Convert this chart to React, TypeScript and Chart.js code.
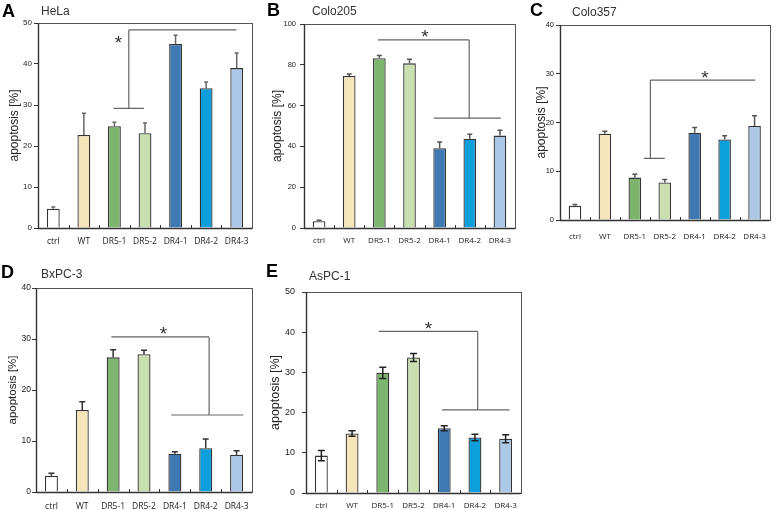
import React, { useEffect, useRef } from "react";
import { Chart, registerables } from "chart.js";
Chart.register(...registerables);

const categories = ["ctrl", "WT", "DR5-1", "DR5-2", "DR4-1", "DR4-2", "DR4-3"];
const barColors = ["#ffffff", "#f6e4ba", "#7db46e", "#c9dfaf", "#3e79b4", "#0c9fdb", "#abc8e6"];
const yTitle = "apoptosis [%]";

// HeLa
const helaMean = [4.7, 22.7, 24.8, 23.1, 44.9, 34.1, 39.0];
const helaErr = [0.4, 5.3, 1.0, 2.5, 2.1, 1.5, 3.7];
const helaBracket = [[1.97, 29.2, 2.97, 29.2], [2.47, 29.2, 2.47, 48.3], [2.47, 48.3, 5.99, 48.3]];
const helaStar = [2.13, 46.3];
// Colo205
const colo205Mean = [3.3, 74.5, 83.2, 80.7, 39.1, 43.8, 45.3];
const colo205Err = [0.5, 1.0, 1.3, 2.0, 3.1, 2.1, 2.6];
const colo205Bracket = [[1.95, 92.2, 4.98, 92.2], [4.98, 92.2, 4.98, 53.9], [3.8, 53.9, 6.03, 53.9]];
const colo205Star = [3.51, 96.2];
// Colo357
const colo357Mean = [2.9, 17.7, 8.7, 7.7, 17.9, 16.5, 19.3];
const colo357Err = [0.3, 0.5, 0.7, 0.6, 1.1, 0.8, 2.1];
const colo357Bracket = [[2.3, 12.65, 3.0, 12.65], [2.52, 12.65, 2.52, 28.7], [2.52, 28.7, 6.02, 28.7]];
const colo357Star = [4.34, 30.1];
// BxPC-3
const bxpcMean = [3.2, 16.1, 26.4, 27.0, 7.5, 8.6, 7.3];
const bxpcErr = [0.5, 1.6, 1.5, 0.8, 0.4, 1.8, 0.8];
const bxpcBracket = [[1.94, 30.4, 5.11, 30.4], [5.11, 30.4, 5.11, 15.1], [3.88, 15.1, 6.22, 15.1]];
const bxpcStar = [3.63, 31.9];
// AsPC-1
const aspcMean = [9.3, 14.8, 29.9, 33.7, 16.1, 13.8, 13.5];
const aspcErr = [1.3, 0.7, 1.4, 1.0, 0.6, 0.8, 1.0];
const aspcBracket = [[1.87, 40.2, 5.09, 40.2], [5.09, 40.2, 5.09, 20.7], [3.93, 20.7, 6.13, 20.7]];
const aspcStar = [3.49, 42.1];

type PanelDef = {
  letter: string; title: string;
  mean: number[]; err: number[]; both: boolean;
  bracket: number[][]; star: number[];
  max: number; step: number;
  left: number; top: number; width: number; height: number;
  padTop: number; padRight: number; yWidth: number; xHeight: number; xPad: number;
  yTitleX: number; yTitleSize: number; yTickSize: number; yTickPad: number; xTickSize: number;
  capHalf: number; errColor: string;
  letterPos: [number, number]; titlePos: [number, number];
};

const panels: PanelDef[] = [
  {
    letter: "A", title: "HeLa", mean: helaMean, err: helaErr, both: false, bracket: helaBracket, star: helaStar,
    max: 50, step: 10, left: 0, top: 0, width: 262, height: 255, padTop: 23, padRight: 10, yWidth: 38, xHeight: 27, xPad: 8,
    yTitleX: 15, yTitleSize: 12, yTickSize: 8, yTickPad: 2, xTickSize: 8.5, capHalf: 2, errColor: "#666",
    letterPos: [2, 2], titlePos: [41, 5],
  },
  {
    letter: "B", title: "Colo205", mean: colo205Mean, err: colo205Err, both: false, bracket: colo205Bracket, star: colo205Star,
    max: 100, step: 20, left: 262, top: 0, width: 262, height: 255, padTop: 24, padRight: 9, yWidth: 42, xHeight: 27, xPad: 8,
    yTitleX: 16, yTitleSize: 12, yTickSize: 7.5, yTickPad: 4, xTickSize: 8, capHalf: 2.5, errColor: "#555",
    letterPos: [267, 1], titlePos: [312, 5],
  },
  {
    letter: "C", title: "Colo357", mean: colo357Mean, err: colo357Err, both: false, bracket: colo357Bracket, star: colo357Star,
    max: 40, step: 10, left: 524, top: 0, width: 254, height: 255, padTop: 25, padRight: 3, yWidth: 36, xHeight: 35, xPad: 12,
    yTitleX: 18, yTitleSize: 12, yTickSize: 7.5, yTickPad: 2, xTickSize: 8, capHalf: 2.5, errColor: "#555",
    letterPos: [530, 1], titlePos: [572, 6],
  },
  {
    letter: "D", title: "BxPC-3", mean: bxpcMean, err: bxpcErr, both: false, bracket: bxpcBracket, star: bxpcStar,
    max: 40, step: 10, left: 0, top: 255, width: 262, height: 255, padTop: 33, padRight: 10, yWidth: 36, xHeight: 18, xPad: 9,
    yTitleX: 13, yTitleSize: 11.5, yTickSize: 8.5, yTickPad: 1, xTickSize: 8.5, capHalf: 3, errColor: "#333",
    letterPos: [1, 263], titlePos: [41, 268],
  },
  {
    letter: "E", title: "AsPC-1", mean: aspcMean, err: aspcErr, both: true, bracket: aspcBracket, star: aspcStar,
    max: 50, step: 10, left: 262, top: 255, width: 268, height: 255, padTop: 37, padRight: 9, yWidth: 44, xHeight: 17, xPad: 8,
    yTitleX: 14, yTitleSize: 12.5, yTickSize: 9, yTickPad: 7, xTickSize: 8, capHalf: 3.5, errColor: "#222",
    letterPos: [266, 262], titlePos: [309, 270],
  },
];

function makeOverlay(p: PanelDef) {
  return {
    id: "overlay" + p.letter,
    afterDatasetsDraw(chart: any) {
      const ctx = chart.ctx;
      const ca = chart.chartArea;
      const xs = chart.scales.x;
      const ys = chart.scales.y;
      ctx.save();
      ctx.strokeStyle = "#555";
      ctx.lineWidth = 1;
      ctx.strokeRect(Math.round(ca.left) + 0.5, Math.round(ca.top) + 0.5, Math.round(ca.right - ca.left), Math.round(ca.bottom - ca.top));
      ctx.strokeStyle = "#333";
      ctx.lineWidth = 1.4;
      ctx.beginPath();
      ctx.moveTo(ca.left + 0.5, ca.top);
      ctx.lineTo(ca.left + 0.5, ca.bottom + 0.5);
      ctx.lineTo(ca.right, ca.bottom + 0.5);
      ctx.stroke();
      ctx.lineWidth = 1;
      ctx.beginPath();
      for (let k = 0; k < categories.length - 1; k++) {
        const x = Math.round(xs.getPixelForValue(k + 0.5)) + 0.5;
        ctx.moveTo(x, ca.bottom);
        ctx.lineTo(x, ca.bottom - 3);
      }
      ctx.stroke();
      ctx.strokeStyle = p.errColor;
      ctx.lineWidth = 1.5;
      ctx.beginPath();
      p.mean.forEach((m, i) => {
        const x = xs.getPixelForValue(i);
        const yHi = ys.getPixelForValue(m + p.err[i]);
        const yLo = p.both ? ys.getPixelForValue(m - p.err[i]) : ys.getPixelForValue(m);
        ctx.moveTo(x, yLo);
        ctx.lineTo(x, yHi);
        ctx.moveTo(x - p.capHalf, yHi);
        ctx.lineTo(x + p.capHalf, yHi);
        if (p.both) {
          ctx.moveTo(x - p.capHalf, yLo);
          ctx.lineTo(x + p.capHalf, yLo);
        }
      });
      ctx.stroke();
      ctx.strokeStyle = "#666";
      ctx.lineWidth = 1.2;
      ctx.beginPath();
      p.bracket.forEach(([x1, y1, x2, y2]) => {
        ctx.moveTo(xs.getPixelForValue(x1), ys.getPixelForValue(y1));
        ctx.lineTo(xs.getPixelForValue(x2), ys.getPixelForValue(y2));
      });
      ctx.stroke();
      const fs = 19;
      ctx.fillStyle = "#333";
      ctx.font = `${fs}px "Liberation Sans", Arial, sans-serif`;
      ctx.textAlign = "center";
      ctx.textBaseline = "alphabetic";
      ctx.fillText("*", xs.getPixelForValue(p.star[0]), ys.getPixelForValue(p.star[1]) + fs * 0.57);
      ctx.restore();
    },
  };
}

function PanelChart({ p }: { p: PanelDef }) {
  const ref = useRef<HTMLCanvasElement | null>(null);
  useEffect(() => {
    if (!ref.current) return;
    const chart = new Chart(ref.current, {
      type: "bar",
      data: {
        labels: categories,
        datasets: [
          {
            data: p.mean,
            backgroundColor: barColors,
            borderColor: "#333",
            borderWidth: 1.3,
            barPercentage: 0.42,
            categoryPercentage: 1,
          },
        ],
      },
      options: {
        responsive: false,
        animation: false,
        devicePixelRatio: 1,
        layout: { padding: { left: 0, top: p.padTop, right: p.padRight, bottom: 0 } },
        plugins: { legend: { display: false }, tooltip: { enabled: false }, title: { display: false } },
        scales: {
          x: {
            offset: true,
            grid: { display: false, drawTicks: false },
            border: { display: false },
            ticks: {
              color: "#222",
              font: { family: "Open Sans", size: p.xTickSize },
              padding: p.xPad,
              maxRotation: 0,
              autoSkip: false,
            },
            afterFit: (s: any) => { s.height = p.xHeight; },
          },
          y: {
            min: 0,
            max: p.max,
            grid: { display: true, drawOnChartArea: false, drawTicks: true, tickLength: 4, color: "#333" },
            border: { display: false },
            ticks: {
              stepSize: p.step,
              color: "#222",
              font: { family: "Liberation Sans", size: p.yTickSize },
              padding: p.yTickPad,
            },
            title: {
              display: true,
              text: yTitle,
              color: "#222",
              font: { family: "Liberation Sans", size: p.yTitleSize },
              padding: { top: p.yTitleX - (p.yTitleSize * 1.2) / 2, bottom: 0 },
            },
            afterFit: (s: any) => { s.width = p.yWidth; },
          },
        },
      },
      plugins: [makeOverlay(p)],
    } as any);
    return () => chart.destroy();
  }, [p]);
  return (
    <canvas
      ref={ref}
      width={p.width}
      height={p.height}
      style={{ position: "absolute", left: p.left, top: p.top, width: p.width, height: p.height }}
    />
  );
}

export default function App() {
  return (
    <div style={{ position: "absolute", left: 0, top: 0, width: 778, height: 510, background: "#fff", overflow: "hidden" }}>
      {panels.map((p) => (
        <PanelChart key={p.letter} p={p} />
      ))}
      {panels.map((p) => (
        <div
          key={"L" + p.letter}
          style={{
            position: "absolute", left: p.letterPos[0], top: p.letterPos[1],
            font: 'bold 18px "Liberation Sans", Arial, sans-serif', lineHeight: "18px", color: "#000",
          }}
        >
          {p.letter}
        </div>
      ))}
      {panels.map((p) => (
        <div
          key={"T" + p.letter}
          style={{
            position: "absolute", left: p.titlePos[0], top: p.titlePos[1],
            font: '12px "Liberation Sans", Arial, sans-serif', lineHeight: "12px", color: "#333", whiteSpace: "nowrap",
          }}
        >
          {p.title}
        </div>
      ))}
    </div>
  );
}
